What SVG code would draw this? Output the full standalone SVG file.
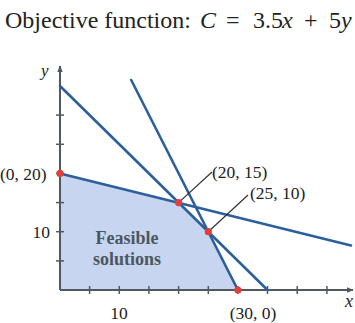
<svg xmlns="http://www.w3.org/2000/svg" width="355" height="323" viewBox="0 0 355 323">
<style>
.ser{fill:#222}
.ax{stroke:#505a5e;stroke-width:2;fill:none}
.tk{stroke:#505a5e;stroke-width:1.5}
.ln{stroke:#2c5f9c;stroke-width:2.6;fill:none;stroke-linecap:round}
.ld{stroke:#333;stroke-width:1.2;fill:none}
.dot{fill:#e0403a}
.lbl{font-size:17.5px}
</style>
<defs>
<marker id="ah" viewBox="0 0 10 10" refX="9" refY="5" markerWidth="7" markerHeight="7" orient="auto" markerUnits="userSpaceOnUse">
<path d="M0,1 L10,5 L0,9 Z" fill="#505a5e"/>
</marker>
</defs>
<rect width="355" height="323" fill="#fff"/>
<g font-family="Liberation Serif, serif">
<text class="ser" y="28" font-size="24"><tspan x="5">Objective function: </tspan><tspan x="200" font-style="italic">C</tspan><tspan x="226">=</tspan><tspan x="253">3.5</tspan><tspan x="282" font-style="italic">x</tspan><tspan x="304">+</tspan><tspan x="329">5</tspan><tspan x="341" font-style="italic">y</tspan></text>
<g id="feasible">
<polygon points="60,290 60,173.4 178.6,202.6 208.3,231.7 237.9,290" fill="#c7d5f0"/>
<text x="127" y="244" text-anchor="middle" font-weight="bold" font-size="18" fill="#4c5660">Feasible</text>
<text x="127" y="265" text-anchor="middle" font-weight="bold" font-size="18" fill="#4c5660">solutions</text>
</g>
<g id="axes">
<line class="ax" x1="60" y1="290" x2="60" y2="66" marker-end="url(#ah)"/>
<line class="ax" x1="60" y1="290" x2="353" y2="290" marker-end="url(#ah)"/>
<g class="tk">
<line x1="56" y1="260.9" x2="64" y2="260.9"/>
<line x1="56" y1="231.7" x2="64" y2="231.7"/>
<line x1="56" y1="202.6" x2="64" y2="202.6"/>
<line x1="56" y1="173.4" x2="64" y2="173.4"/>
<line x1="56" y1="144.3" x2="64" y2="144.3"/>
<line x1="56" y1="115.1" x2="64" y2="115.1"/>
<line x1="89.6" y1="286" x2="89.6" y2="294"/>
<line x1="119.3" y1="286" x2="119.3" y2="294"/>
<line x1="148.9" y1="286" x2="148.9" y2="294"/>
<line x1="178.6" y1="286" x2="178.6" y2="294"/>
<line x1="208.3" y1="286" x2="208.3" y2="294"/>
<line x1="237.9" y1="286" x2="237.9" y2="294"/>
<line x1="267.5" y1="286" x2="267.5" y2="294"/>
<line x1="297.2" y1="286" x2="297.2" y2="294"/>
<line x1="326.9" y1="286" x2="326.9" y2="294"/>
</g>
<text class="ser" x="41" y="76" font-size="17" font-style="italic">y</text>
<text class="ser" x="345" y="307" font-size="18" font-style="italic">x</text>
<text class="ser lbl" x="50" y="238" text-anchor="end">10</text>
<text class="ser lbl" x="119" y="319" text-anchor="middle">10</text>
</g>
<g id="connectors">
<line class="ln" x1="60" y1="86" x2="267.5" y2="290"/>
<line class="ln" x1="131.2" y1="80" x2="237.9" y2="290"/>
<line class="ln" x1="60" y1="173.4" x2="351" y2="245.5"/>
<line class="ld" x1="178.6" y1="202.6" x2="212" y2="172"/>
<line class="ld" x1="208.3" y1="231.7" x2="248" y2="195"/>
</g>
<g id="p0_20"><circle class="dot" cx="60" cy="173.4" r="3.6"/><text class="ser lbl" x="0" y="180">(0, 20)</text></g>
<g id="p20_15"><circle class="dot" cx="178.6" cy="202.6" r="3.6"/><text class="ser lbl" x="212" y="178">(20, 15)</text></g>
<g id="p30_0"><circle class="dot" cx="237.9" cy="290" r="3.6"/><text class="ser lbl" x="253" y="319" text-anchor="middle">(30, 0)</text></g>
<g id="p25_10"><circle class="dot" cx="208.3" cy="231.7" r="3.6"/><text class="ser lbl" x="250" y="199">(25, 10)</text></g>
</g>
</svg>
